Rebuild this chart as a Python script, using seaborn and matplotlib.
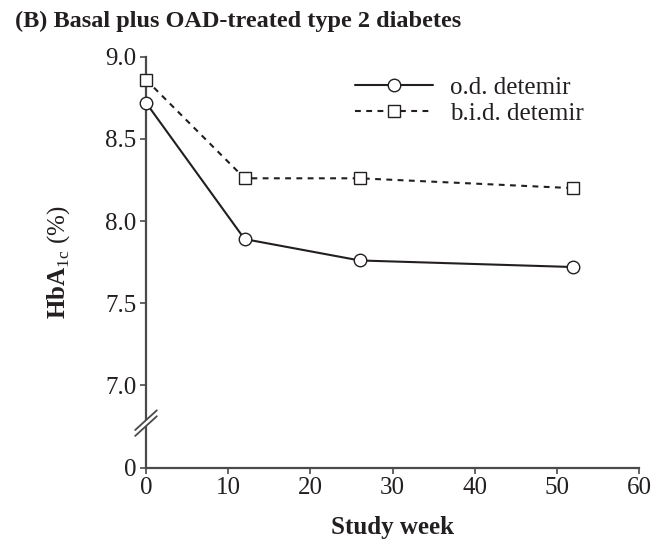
import numpy as np
import pandas as pd
import matplotlib
matplotlib.use("Agg")
import matplotlib.pyplot as plt
import seaborn as sns
from matplotlib.lines import Line2D
from matplotlib.patches import Polygon

# HbA1c over the study, basal plus OAD-treated type 2 diabetes
weeks = [0, 12, 26, 52]
od_detemir = [8.72, 7.89, 7.76, 7.72]
bid_detemir = [8.86, 8.26, 8.26, 8.20]
series_names = ["o.d. detemir", "b.i.d. detemir"]

x_ticks = [0, 10, 20, 30, 40, 50, 60]
# the lowest position stands for 0 on a broken axis
y_ticks = [6.5, 7.0, 7.5, 8.0, 8.5, 9.0]
y_tick_labels = ["0", "7.0", "7.5", "8.0", "8.5", "9.0"]

df = pd.DataFrame({
    "week": weeks * 2,
    "hba1c": od_detemir + bid_detemir,
    "regimen": [series_names[0]] * len(weeks) + [series_names[1]] * len(weeks),
})

sns.set_theme(style="ticks")
plt.rcParams["font.family"] = ["Liberation Serif", "DejaVu Serif"]
plt.rcParams["mathtext.fontset"] = "custom"
plt.rcParams["mathtext.rm"] = "Liberation Serif"
plt.rcParams["mathtext.bf"] = "Liberation Serif:bold"

ink = "#231f20"
spine_col = "#4a4a4a"

fig = plt.figure(figsize=(6.54, 5.41), dpi=100)
ax = fig.add_axes([146 / 654, 1 - 467.5 / 541, (639 - 146) / 654, (467.5 - 56.7) / 541])

sns.lineplot(
    data=df, x="week", y="hba1c", hue="regimen", style="regimen",
    palette={series_names[0]: ink, series_names[1]: ink},
    markers={series_names[0]: "o", series_names[1]: "s"},
    dashes={series_names[0]: "", series_names[1]: (2.8, 2.6)},
    linewidth=1.5, markersize=9, markerfacecolor="white",
    markeredgecolor=ink, markeredgewidth=1.0,
    legend=False, ax=ax, clip_on=False, zorder=3,
)

ax.set_xlim(0, 60)
ax.set_ylim(6.5, 9.0)
ax.set_xticks(x_ticks)
ax.set_xticklabels([str(v) for v in x_ticks])
ax.set_yticks(y_ticks)
ax.set_yticklabels(y_tick_labels)

for side in ("top", "right"):
    ax.spines[side].set_visible(False)
for side in ("left", "bottom"):
    ax.spines[side].set_color(spine_col)
    ax.spines[side].set_linewidth(1.6)
ax.tick_params(axis="both", direction="out", length=4, width=1.2,
               color=spine_col, labelsize=18, labelcolor=ink, pad=3)

ax.set_xlabel("Study week", fontsize=18, fontweight="bold", color=ink, labelpad=12)
ax.set_ylabel(r"$\mathbf{HbA}_{\mathrm{1c}}$ (%)", fontsize=18, fontweight="normal",
              color=ink, labelpad=24)

# axis break marks between 0 and 7.0
trans = ax.get_yaxis_transform()
yc = 6.77
dx, dy, gap = 0.022, 0.06, 0.018
mask = Polygon([(-dx, yc - dy - gap), (dx, yc + dy - gap),
                (dx, yc + dy + gap), (-dx, yc - dy + gap)],
               closed=True, transform=trans, facecolor="white",
               edgecolor="none", clip_on=False, zorder=4)
ax.add_patch(mask)
for off in (-gap, gap):
    ax.add_line(Line2D([-dx, dx], [yc - dy + off, yc + dy + off], transform=trans,
                       color=spine_col, lw=1.3, clip_on=False, zorder=5))

handles = [
    Line2D([], [], color=ink, lw=1.5, marker="o", markersize=9,
           markerfacecolor="white", markeredgecolor=ink, markeredgewidth=1.0),
    Line2D([], [], color=ink, lw=1.5, ls=(0, (2.8, 2.6)), marker="s", markersize=9,
           markerfacecolor="white", markeredgecolor=ink, markeredgewidth=1.0),
]
leg = ax.legend(handles, series_names, loc="upper left",
                bbox_to_anchor=(355 / 654, 1 - 76 / 541), bbox_transform=fig.transFigure,
                frameon=False, fontsize=18, handlelength=3.1, handletextpad=0.7,
                labelspacing=0.15, borderpad=0, borderaxespad=0)
for t in leg.get_texts():
    t.set_color(ink)

fig.text(15 / 654, 1 - 21 / 541, "(B) Basal plus OAD-treated type 2 diabetes",
         fontsize=17.5, fontweight="bold", color=ink, ha="left", va="center")

fig.savefig("out.png", dpi=100)
